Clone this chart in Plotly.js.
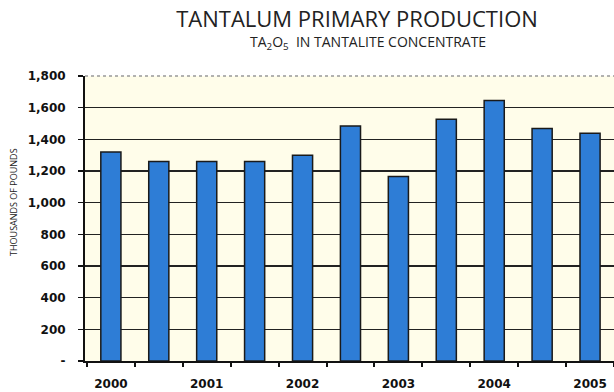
<!DOCTYPE html>
<html>
<head>
<meta charset="utf-8">
<script src="https://cdn.plot.ly/plotly-3.0.1.min.js"></script>
<style>html,body{margin:0;padding:0;background:#fff}#chart{width:614px;height:392px}</style>
</head>
<body>
<div id="chart"></div>
<script>
// Semi-annual periods (labels shown for each year)
const periods = ['2000','2000b','2001','2001b','2002','2002b','2003','2003b','2004','2004b','2005'];
const production = [1320, 1260, 1260, 1260, 1300, 1485, 1165, 1527, 1645, 1468, 1438];
const yearLabels = ['2000','2001','2002','2003','2004','2005'];
const yearTickIndex = [0, 2, 4, 6, 8, 10];
const yTickVals = [0, 200, 400, 600, 800, 1000, 1200, 1400, 1600, 1800];
const yTickText = ['-', '200', '400', '600', '800', '1,000', '1,200', '1,400', '1,600', '1,800'];

const xIdx = periods.map((p, i) => i);
const slotEdges = periods.map((p, i) => i - 0.5).concat([periods.length - 0.5]);
const xRange = [-0.54, 10.5];

const trace = {
  type: 'bar',
  x: xIdx,
  y: production,
  text: periods,
  hoverinfo: 'y',
  textposition: 'none',
  width: 0.42,
  marker: {color: '#2e7dd6', line: {color: '#1a1a1a', width: 1.5}}
};

// invisible helper trace to bring in the tick-only overlay axis
const helper = {type: 'scatter', x: [], y: [], xaxis: 'x2', yaxis: 'y', hoverinfo: 'skip', showlegend: false};

const tickFont = {family: 'DejaVu Sans', size: 12, color: '#111', weight: 'bold'};

const layout = {
  width: 614, height: 392,
  margin: {l: 85, r: 0, t: 76, b: 31},
  paper_bgcolor: '#ffffff',
  plot_bgcolor: '#fffdea',
  showlegend: false,
  xaxis: {
    range: xRange,
    tickvals: yearTickIndex,
    ticktext: yearLabels,
    ticks: '',
    ticklabelstandoff: 11,
    tickfont: tickFont,
    showgrid: false,
    zeroline: false,
    showline: true, linecolor: '#111', linewidth: 2
  },
  xaxis2: {
    overlaying: 'x', anchor: 'y', side: 'bottom',
    range: xRange,
    tickvals: slotEdges,
    ticks: 'outside', ticklen: 5, tickcolor: '#111', tickwidth: 2,
    showticklabels: false, showgrid: false, zeroline: false, showline: false
  },
  yaxis: {
    range: [0, 1800],
    tickvals: yTickVals,
    ticktext: yTickText,
    ticks: 'outside', ticklen: 5, tickcolor: '#111', tickwidth: 1.5,
    ticklabelstandoff: 10,
    tickfont: tickFont,
    showgrid: true, gridcolor: '#222', gridwidth: 1.5,
    zeroline: false,
    showline: true, linecolor: '#111', linewidth: 2
  },
  title: {
    text: 'TANTALUM PRIMARY PRODUCTION',
    font: {family: 'Open Sans', size: 22, color: '#222'},
    x: 357 / 614, xref: 'container', xanchor: 'center',
    y: 1 - 19 / 392, yref: 'container', yanchor: 'middle'
  },
  annotations: [
    {
      text: 'TA<sub>2</sub>O<sub>5</sub>  IN TANTALITE CONCENTRATE',
      xref: 'paper', yref: 'paper',
      x: (368 - 85) / 529, y: 1 + (76 - 42) / 285,
      xanchor: 'center', yanchor: 'middle', showarrow: false,
      font: {family: 'Open Sans', size: 14, color: '#222'}
    },
    {
      text: 'THOUSANDS OF POUNDS',
      xref: 'paper', yref: 'paper',
      x: (13 - 85) / 529, y: (361 - 202) / 285,
      xanchor: 'center', yanchor: 'middle', showarrow: false, textangle: -90,
      font: {family: 'Open Sans', size: 9, color: '#222'}
    }
  ],
  shapes: [
    {type: 'line', xref: 'paper', yref: 'paper', x0: 0, x1: 1, y0: 1, y1: 1,
     line: {color: '#999', width: 1.5, dash: 'dot'}}
  ]
};

Plotly.newPlot('chart', [trace, helper], layout, {displayModeBar: false, staticPlot: true});
</script>
</body>
</html>
